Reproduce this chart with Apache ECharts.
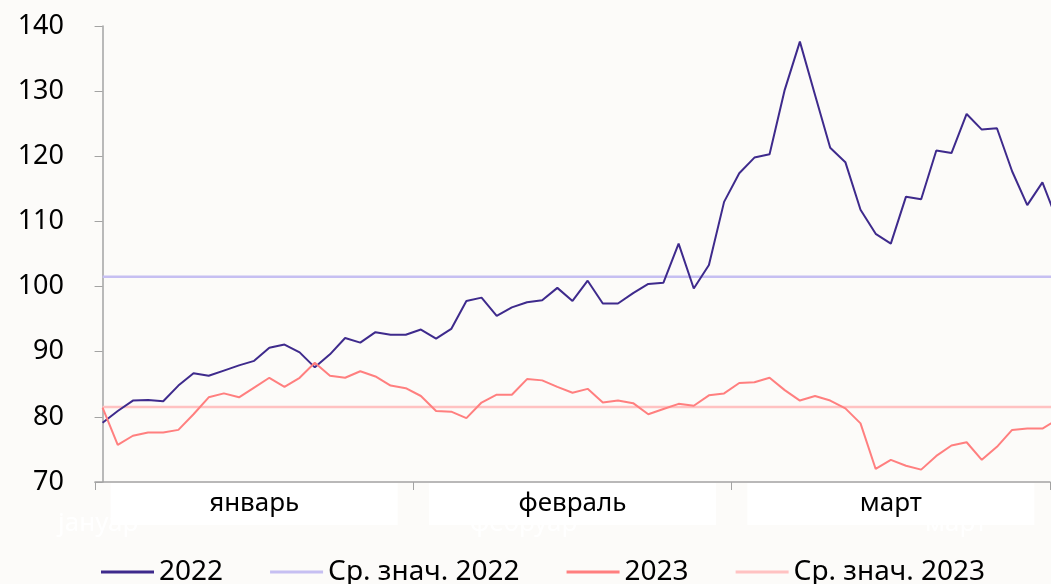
<!DOCTYPE html>
<html>
<head>
<meta charset="utf-8">
<script src="https://cdn.jsdelivr.net/npm/echarts@6/dist/echarts.min.js"></script>
<style>
  html, body { margin: 0; padding: 0; background: #fcfbf9; }
  #chart { width: 1051px; height: 584px; }
</style>
</head>
<body>
<div id="chart"></div>
<script>
// month tick labels (visible) and the hidden white ones from the original
const months = ['январь', 'февраль', 'март']
const monthsHidden = ['јануар', 'фебруар', 'март']

// daily index values, Q1 (last point runs past the right edge)
const s2022 = [
  79.1, 80.9, 82.5, 82.6, 82.4, 84.8, 86.7, 86.3, 87.1, 87.9,
  88.6, 90.6, 91.1, 89.9, 87.6, 89.6, 92.1, 91.4, 93.0, 92.6,
  92.6, 93.4, 92.0, 93.5, 97.8, 98.3, 95.5, 96.8, 97.6, 97.9,
  99.8, 97.8, 100.9, 97.4, 97.4, 99.0, 100.4, 100.6, 106.6, 99.7,
  103.3, 113.0, 117.4, 119.8, 120.3, 130.2, 137.6, 129.4, 121.3, 119.1,
  111.8, 108.1, 106.6, 113.8, 113.4, 120.9, 120.5, 126.5, 124.1, 124.3,
  117.7, 112.5, 116.0, 110.0
]
const s2023 = [
  81.4, 75.7, 77.1, 77.6, 77.6, 78.0, 80.4, 83.0, 83.6, 83.0,
  84.5, 86.0, 84.6, 86.0, 88.3, 86.3, 86.0, 87.0, 86.2, 84.8,
  84.4, 83.2, 80.9, 80.8, 79.8, 82.2, 83.4, 83.4, 85.8, 85.6,
  84.6, 83.7, 84.3, 82.2, 82.5, 82.1, 80.4, 81.2, 82.0, 81.7,
  83.3, 83.6, 85.2, 85.3, 86.0, 84.1, 82.5, 83.2, 82.5, 81.3,
  79.0, 72.0, 73.4, 72.5, 71.9, 74.0, 75.6, 76.1, 73.4, 75.4,
  78.0, 78.2, 78.2, 79.6
]
const avg2022 = 101.5
const avg2023 = 81.5

const visibleDays = 63 // points that fit inside the month axis

const font = 'Noto Sans'
const axisGray = '#a3a3a3'

const chart = echarts.init(document.getElementById('chart'))

function pairs(arr) {
  return arr.map((v, i) => [i, v])
}
function flat(v, arr) {
  return [[0, v], [arr.length - 1, v]]
}

chart.setOption({
  animation: false,
  backgroundColor: '#fcfbf9',
  textStyle: { fontFamily: font },
  grid: { left: 95, right: 1, top: 26, bottom: 102, containLabel: false },
  legend: {
    left: 96,
    top: 553,
    icon: 'rect',
    itemWidth: 53,
    itemHeight: 3,
    itemGap: 47,
    textStyle: { fontSize: 28, color: '#000', fontFamily: font },
    data: ['2022', 'Ср. знач. 2022', '2023', 'Ср. знач. 2023']
  },
  xAxis: [{
    type: 'category',
    data: months,
    position: 'bottom',
    boundaryGap: true,
    axisLine: { lineStyle: { color: axisGray, width: 1.5 } },
    axisTick: { show: true, length: 8, interval: 0, lineStyle: { color: axisGray } },
    axisLabel: {
      interval: 0,
      margin: 1,
      fontSize: 26,
      color: '#000',
      backgroundColor: '#ffffff',
      width: 287,
      height: 42,
      lineHeight: 42,
      align: 'center'
    },
    splitLine: { show: false },
    z: 3
  }, {
    type: 'value',
    position: 'bottom',
    min: -0.5,
    max: visibleDays - 0.5,
    show: false
  }],
  yAxis: {
    type: 'value',
    min: 70,
    max: 140,
    interval: 10,
    axisLine: { show: true, lineStyle: { color: axisGray, width: 1.5 } },
    axisTick: { show: true, length: 8, lineStyle: { color: axisGray } },
    axisLabel: { fontSize: 27, color: '#000', margin: 31 },
    splitLine: { show: false }
  },
  graphic: monthsHidden.map((m, i) => ({
    type: 'text',
    left: [58, 470, 925][i],
    top: 511,
    z: -1,
    style: { text: m, fill: '#ffffff', fontSize: 26, fontFamily: font }
  })),
  series: [{
    name: 'Ср. знач. 2022',
    type: 'line',
    xAxisIndex: 1,
    data: flat(avg2022, s2022),
    showSymbol: false,
    clip: false,
    color: '#c6bff2',
    lineStyle: { width: 2.5 },
    z: 1
  }, {
    name: 'Ср. знач. 2023',
    type: 'line',
    xAxisIndex: 1,
    data: flat(avg2023, s2023),
    showSymbol: false,
    clip: false,
    color: '#ffc2c2',
    lineStyle: { width: 2.5 },
    z: 1
  }, {
    name: '2022',
    type: 'line',
    xAxisIndex: 1,
    data: pairs(s2022),
    showSymbol: false,
    clip: false,
    color: '#3e2a8c',
    lineStyle: { width: 2 },
    z: 2
  }, {
    name: '2023',
    type: 'line',
    xAxisIndex: 1,
    data: pairs(s2023),
    showSymbol: false,
    clip: false,
    color: '#ff7f7f',
    lineStyle: { width: 2 },
    z: 2
  }]
})
</script>
</body>
</html>
